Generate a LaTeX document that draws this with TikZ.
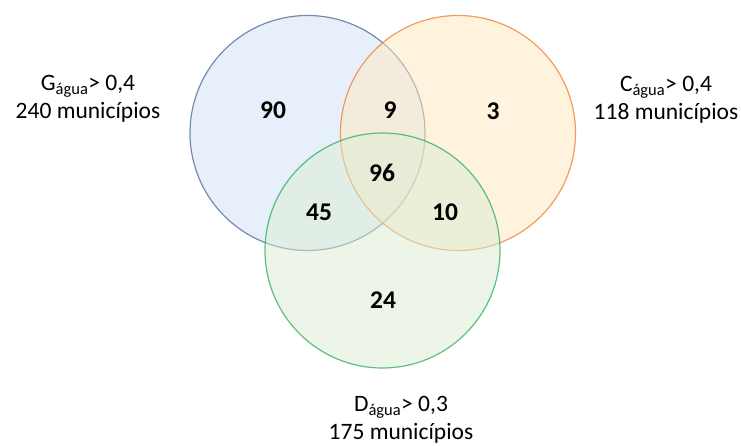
\documentclass[tikz,border=0pt]{standalone}
\usepackage{fontspec}
\setmainfont{Carlito}
\usepackage{tikz}
\usetikzlibrary{positioning}

\definecolor{gline}{RGB}{72,104,150}
\definecolor{gfill}{RGB}{208,225,245}
\definecolor{cline}{RGB}{237,125,49}
\definecolor{cfill}{RGB}{255,232,190}
\definecolor{dline}{RGB}{40,172,90}
\definecolor{dfill}{RGB}{218,236,208}

\begin{document}
\begin{tikzpicture}[x=1pt, y=-1pt,
    set/.style={circle, minimum size=235pt, line width=1.2pt, draw opacity=0.75, fill opacity=0.5},
    count/.style={font=\fontsize{25.5}{30}\bfseries\selectfont},
    setlabel/.style={align=center, font=\fontsize{23.5}{27.5}\selectfont}]
    \useasboundingbox (0,0) rectangle (741,446);

    % Conjuntos
    \node [set, draw=gline, fill=gfill] (G) at (307.5,133) {};
    \node [set, draw=cline, fill=cfill] (C) at (458,133) {};
    \node [set, draw=dline, fill=dfill] (D) at (382.5,250.5) {};

    % Contagens
    \node [count] (nG) at (273,110) {90};
    \node [count] (nGC) at (390,110) {9};
    \node [count] (nC) at (493,111) {3};
    \node [count] (nGCD) at (382,173) {96};
    \node [count] (nGD) at (319,212) {45};
    \node [count] (nCD) at (445,212) {10};
    \node [count] (nD) at (383,300) {24};

    % Rotulos
    \node [setlabel] (lG) at (88,99) {G\textsubscript{água}> 0,4\\240 municípios};
    \node [setlabel] (lC) at (666,100) {C\textsubscript{água}> 0,4\\118 municípios};
    \node [setlabel] (lD) at (401,420) {D\textsubscript{água}> 0,3\\175 municípios};
\end{tikzpicture}
\end{document}
